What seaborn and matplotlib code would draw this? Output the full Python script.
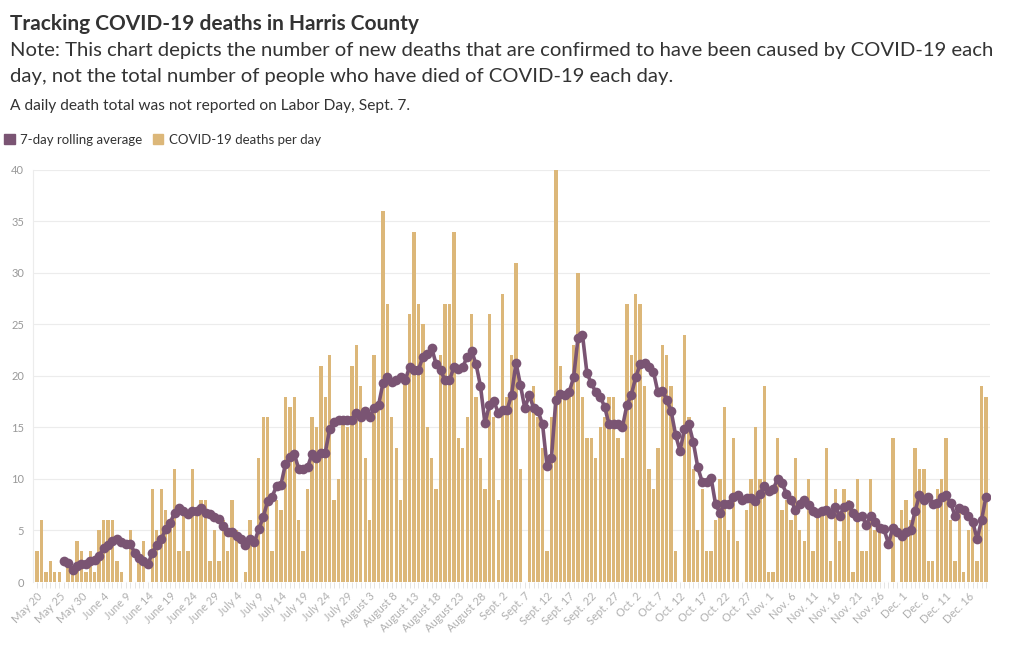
import matplotlib.pyplot as plt
import numpy as np
import pandas as pd
import seaborn as sns
from matplotlib.patches import Patch

# new COVID-19 deaths per day, May 20 .. Dec 20 (Sept 7 not reported)
deaths = [
    3, 6, 1, 2, 1, 1, 0, 2, 1, 4,
    3, 1, 3, 1, 5, 6, 6, 6, 2, 1,
    0, 5, 0, 2, 4, 0, 9, 5, 9, 7,
    6, 11, 3, 7, 3, 11, 7, 8, 8, 2,
    5, 2, 6, 3, 8, 5, 0, 1, 6, 4,
    12, 16, 16, 3, 8, 7, 18, 17, 18, 6,
    3, 9, 16, 15, 21, 18, 22, 8, 10, 16,
    15, 21, 23, 19, 12, 6, 22, 17, 36, 27,
    16, 13, 8, 20, 26, 34, 27, 25, 15, 12,
    9, 22, 27, 27, 34, 14, 13, 16, 26, 18,
    12, 9, 26, 16, 8, 28, 18, 22, 31, 11,
    0, 17, 19, 16, 13, 3, 16, 40, 21, 18,
    18, 23, 30, 18, 14, 14, 12, 15, 16, 18,
    18, 14, 12, 27, 22, 28, 27, 19, 11, 9,
    13, 23, 22, 19, 3, 0, 24, 16, 11, 5,
    9, 3, 3, 6, 10, 17, 5, 14, 4, 0,
    7, 10, 15, 10, 19, 1, 1, 14, 7, 8,
    6, 12, 5, 4, 10, 3, 7, 7, 13, 2,
    9, 4, 9, 8, 1, 10, 3, 3, 10, 5,
    5, 0, 0, 14, 0, 7, 8, 6, 13, 11,
    11, 2, 2, 9, 10, 14, 6, 2, 7, 1,
    5, 6, 2, 19, 18,
]

# 7-day rolling average, first value on May 26
rolling_avg = [
    2.0, 1.86, 1.14, 1.57,
    1.71, 1.71, 2.0, 2.14, 2.57, 3.29, 3.57, 4.0, 4.14, 3.86,
    3.71, 3.71, 2.86, 2.29, 2.0, 1.71, 2.86, 3.57, 4.14, 5.14,
    5.71, 6.71, 7.14, 6.86, 6.57, 6.86, 6.86, 7.14, 6.71, 6.57,
    6.29, 6.14, 5.43, 4.86, 4.86, 4.43, 4.14, 3.57, 4.14, 3.86,
    5.14, 6.29, 7.86, 8.29, 9.29, 9.43, 11.43, 12.14, 12.43, 11.0,
    11.0, 11.14, 12.43, 12.0, 12.57, 12.57, 14.86, 15.57, 15.71, 15.71,
    15.71, 15.71, 16.43, 16.0, 16.57, 16.0, 16.86, 17.14, 19.29, 19.86,
    19.43, 19.57, 19.86, 19.57, 20.86, 20.57, 20.57, 21.86, 22.14, 22.71,
    21.14, 20.57, 19.57, 19.57, 20.86, 20.71, 20.86, 21.86, 22.43, 21.14,
    19.0, 15.43, 17.14, 17.57, 16.43, 16.71, 16.71, 18.14, 21.29, 19.14,
    16.86, 18.14, 16.86, 16.57, 15.29, 11.29, 12.0, 17.71, 18.29, 18.14,
    18.43, 19.86, 23.71, 24.0, 20.29, 19.29, 18.43, 18.0, 17.0, 15.29,
    15.29, 15.29, 15.0, 17.14, 18.14, 19.86, 21.14, 21.29, 20.86, 20.43,
    18.43, 18.57, 17.71, 16.57, 14.29, 12.71, 14.86, 15.29, 13.57, 11.14,
    9.71, 9.71, 10.14, 7.57, 6.71, 7.57, 7.57, 8.29, 8.43, 8.0,
    8.14, 8.14, 7.86, 8.57, 9.29, 8.86, 9.0, 10.0, 9.57, 8.57,
    8.0, 7.0, 7.57, 8.0, 7.43, 6.86, 6.71, 6.86, 7.0, 6.57,
    7.29, 6.43, 7.29, 7.43, 6.71, 6.29, 6.43, 5.57, 6.43, 5.86,
    5.29, 5.14, 3.71, 5.29, 4.86, 4.43, 4.86, 5.0, 6.86, 8.43,
    8.0, 8.29, 7.57, 7.71, 8.29, 8.43, 7.71, 6.43, 7.14, 7.0,
    6.43, 5.86, 4.14, 6.0, 8.29,
]

tick_labels = [
    "May 20", "May 25", "May 30", "June 4", "June 9", "June 14", "June 19",
    "June 24", "June 29", "July 4", "July 9", "July 14", "July 19", "July 24",
    "July 29", "August 3", "August 8", "August 13", "August 18", "August 23",
    "August 28", "Sept. 2", "Sept. 7", "Sept. 12", "Sept. 17", "Sept. 22",
    "Sept. 27", "Oct. 2", "Oct. 7", "Oct. 12", "Oct. 17", "Oct. 22", "Oct. 27",
    "Nov. 1", "Nov. 6", "Nov. 11", "Nov. 16", "Nov. 21", "Nov. 26", "Dec. 1",
    "Dec. 6", "Dec. 11", "Dec. 16",
]

GOLD = "#dcb779"
PURPLE = "#7a5473"
TEXT = "#333333"

days = np.arange(len(deaths))
bars = pd.DataFrame({"day": days, "deaths": deaths})
line = pd.DataFrame({"day": days[len(days) - len(rolling_avg):], "avg": rolling_avg})

sns.set_theme(style="whitegrid")
plt.rcParams["font.family"] = ["Lato", "DejaVu Sans"]

fig = plt.figure(figsize=(10.2, 6.5), dpi=100)
ax = fig.add_axes([0.032, 0.1046, 0.939, 0.634])

sns.barplot(data=bars, x="day", y="deaths", color=GOLD, saturation=1, width=0.76,
            linewidth=0, ax=ax)
sns.lineplot(data=line, x="day", y="avg", color=PURPLE, linewidth=2.6, marker="o",
             markersize=7, markeredgewidth=0, ax=ax)

ax.set_xlim(-1, len(deaths))
ax.set_ylim(0, 40)
ax.set_yticks(range(0, 41, 5))
ax.set_xticks(range(0, len(deaths), 5))
ax.set_xticklabels(tick_labels, rotation=45, ha="right", rotation_mode="anchor")
ax.set_xticks(days, minor=True)
ax.tick_params(axis="x", which="both", bottom=True, length=4, width=0.6, color="#e0e0e0",
               labelsize=8, labelcolor="#b0b0b0", pad=2)
ax.tick_params(axis="y", length=0, labelsize=8, labelcolor="#999999", pad=6)
ax.set_xlabel("")
ax.set_ylabel("")
ax.grid(axis="x", visible=False)
ax.grid(axis="y", color="#ececec", linewidth=0.8)
for side in ["top", "right", "bottom"]:
    ax.spines[side].set_visible(False)
ax.spines["left"].set_color("#ececec")
ax.spines["left"].set_linewidth(0.8)

fig.text(0.0098, 0.963, "Tracking COVID-19 deaths in Harris County", fontsize=15,
         weight="bold", color=TEXT, va="center")
fig.text(0.0098, 0.923, "Note: This chart depicts the number of new deaths that are confirmed "
         "to have been caused by COVID-19 each", fontsize=14.6, color=TEXT, va="center")
fig.text(0.0098, 0.882, "day, not the total number of people who have died of COVID-19 each day.",
         fontsize=14.6, color=TEXT, va="center")
fig.text(0.0098, 0.837, "A daily death total was not reported on Labor Day, Sept. 7.",
         fontsize=11.2, color=TEXT, va="center")

handles = [Patch(color=PURPLE, label="7-day rolling average"),
           Patch(color=GOLD, label="COVID-19 deaths per day")]
fig.legend(handles=handles, loc="center left", bbox_to_anchor=(0.004, 0.785), ncol=2,
           frameon=False, handlelength=0.8, handleheight=0.8, handletextpad=0.4,
           columnspacing=0.8, fontsize=9.5, labelcolor=TEXT, borderaxespad=0, borderpad=0)

fig.savefig("out.png", dpi=100)
